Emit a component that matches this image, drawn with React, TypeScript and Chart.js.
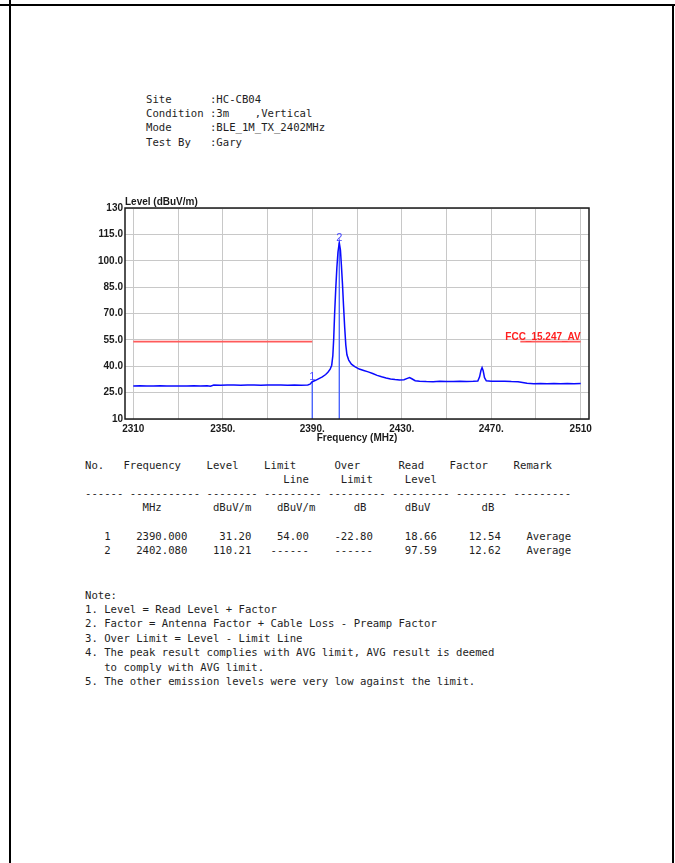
import React, { useEffect, useRef } from 'react';
import { Chart, registerables } from 'chart.js';

Chart.register(...registerables);

// ---------- header ----------
const headerLines = [
  'Site      :HC-CB04',
  'Condition :3m    ,Vertical',
  'Mode      :BLE_1M_TX_2402MHz',
  'Test By   :Gary',
];

// ---------- trace (MHz / dBuV/m) ----------
const traceFreq = [
  2310, 2313, 2316, 2319, 2322, 2325, 2328, 2331, 2334, 2337,
  2340, 2343, 2344.5, 2346, 2349, 2352, 2355, 2358, 2361, 2364,
  2367, 2370, 2373, 2376, 2379, 2382, 2385, 2388, 2389, 2390,
  2391.5, 2393, 2394.5, 2396, 2397, 2398, 2398.7, 2399.2, 2399.6, 2400,
  2400.5, 2401, 2401.5, 2402.08, 2402.6, 2403, 2403.5, 2404, 2404.5, 2405,
  2405.5, 2406.3, 2407.5, 2409, 2411, 2413, 2415, 2417, 2419, 2421,
  2423, 2425, 2427, 2429, 2431, 2432.5, 2433.5, 2434.5, 2436, 2438,
  2441, 2444, 2447, 2450, 2453, 2456, 2459, 2462, 2464, 2464.8,
  2465.4, 2465.9, 2466.4, 2467, 2467.8, 2470, 2473, 2476, 2479, 2482,
  2484, 2486, 2489, 2492, 2495, 2498, 2501, 2504, 2507, 2510,
];
const traceLevel = [
  28.8, 28.9, 28.7, 28.8, 28.9, 28.8, 28.7, 28.8, 28.8, 28.9,
  28.8, 28.9, 28.6, 29.3, 29.2, 29.4, 29.3, 29.2, 29.3, 29.4,
  29.2, 29.3, 29.4, 29.3, 29.2, 29.3, 29.2, 29.3, 29.8, 31.2,
  32.0, 33.0, 34.0, 35.3, 36.6, 38.3, 40.6, 46.0, 56.0, 70.0,
  84.0, 96.0, 105.0, 110.21, 106.0, 98.0, 87.0, 74.0, 62.0, 52.0,
  46.5, 43.5, 41.2, 39.8, 38.4, 37.6, 36.8, 35.9, 34.8, 34.0,
  33.3, 32.8, 32.4, 32.2, 32.3, 33.1, 33.6, 32.9, 31.8, 31.5,
  31.3, 31.2, 31.4, 31.3, 31.3, 31.4, 31.3, 31.4, 31.6, 34.0,
  37.6, 39.2, 37.4, 33.5, 31.7, 31.5, 31.4, 31.5, 31.3, 31.2,
  30.8, 30.3, 30.1, 30.2, 30.1, 30.2, 30.1, 30.2, 30.1, 30.2,
];

// ---------- limit line ----------
const limitName = 'FCC_15.247_AV';
const limitFreq = [2310, 2390, 2436, 2483, 2510];
const limitLevel = [54, 54, null, 54, 54];
const limitValue = 54;
const limitLabelFreq = 2510;

// ---------- markers ----------
const markerNo = ['1', '2'];
const markerFreq = [2390.0, 2402.08];
const markerLevel = [31.2, 110.21];

// ---------- axes ----------
const xMin = 2306.3;
const xMax = 2513.7;
const xGridValues = [2310, 2330, 2350, 2370, 2390, 2410, 2430, 2450, 2470, 2490, 2510];
const xLabelValues = [2310, 2350, 2390, 2430, 2470, 2510];
const xLabelTexts = ['2310', '2350.', '2390.', '2430.', '2470.', '2510'];
const yTickValues = [10, 25, 40, 55, 70, 85, 100, 115, 130];
const yTickTexts = ['10', '25.0', '40.0', '55.0', '70.0', '85.0', '100.0', '115.0', '130'];
const xTitle = 'Frequency (MHz)';
const yTitle = 'Level (dBuV/m)';

// ---------- table ----------
const tableNo = ['1', '2'];
const tableFreq = ['2390.000', '2402.080'];
const tableLevel = ['31.20', '110.21'];
const tableLimit = ['54.00', '------'];
const tableOver = ['-22.80', '------'];
const tableRead = ['18.66', '97.59'];
const tableFactor = ['12.54', '12.62'];
const tableRemark = ['Average', 'Average'];

const noteLines = [
  'Note:',
  '1. Level = Read Level + Factor',
  '2. Factor = Antenna Factor + Cable Loss - Preamp Factor',
  '3. Over Limit = Level - Limit Line',
  '4. The peak result complies with AVG limit, AVG result is deemed',
  '   to comply with AVG limit.',
  '5. The other emission levels were very low against the limit.',
];

function put(line: string, col: number, text: string): string {
  let s = line;
  while (s.length < col) s += ' ';
  return s.slice(0, col) + text + s.slice(col + text.length);
}
function putRight(line: string, endCol: number, text: string): string {
  return put(line, endCol - text.length + 1, text);
}

function buildTable(): string {
  const lines: string[] = [];
  let h1 = '';
  h1 = put(h1, 0, 'No.');
  h1 = put(h1, 6, 'Frequency');
  h1 = put(h1, 19, 'Level');
  h1 = put(h1, 28, 'Limit');
  h1 = put(h1, 39, 'Over');
  h1 = put(h1, 49, 'Read');
  h1 = put(h1, 57, 'Factor');
  h1 = put(h1, 67, 'Remark');
  lines.push(h1);
  let h2 = '';
  h2 = put(h2, 31, 'Line');
  h2 = put(h2, 40, 'Limit');
  h2 = put(h2, 50, 'Level');
  lines.push(h2);
  lines.push('------ ----------- -------- --------- --------- --------- -------- ---------');
  let u = '';
  u = put(u, 9, 'MHz');
  u = put(u, 20, 'dBuV/m');
  u = put(u, 30, 'dBuV/m');
  u = put(u, 42, 'dB');
  u = put(u, 50, 'dBuV');
  u = put(u, 62, 'dB');
  lines.push(u);
  lines.push('');
  for (let i = 0; i < tableNo.length; i++) {
    let r = '';
    r = putRight(r, 3, tableNo[i]);
    r = put(r, 8, tableFreq[i]);
    r = putRight(r, 25, tableLevel[i]);
    r = putRight(r, 34, tableLimit[i]);
    r = putRight(r, 44, tableOver[i]);
    r = putRight(r, 54, tableRead[i]);
    r = putRight(r, 64, tableFactor[i]);
    r = put(r, 69, tableRemark[i]);
    lines.push(r);
  }
  return lines.join('\n');
}

const FONT = '"Liberation Sans", Arial, sans-serif';

const overlayPlugin = {
  id: 'overlay',
  afterDatasetsDraw(chart: any) {
    const { ctx, chartArea: a, scales } = chart;
    const xs = scales.x;
    const ys = scales.y;
    ctx.save();
    ctx.strokeStyle = '#1a1a1a';
    ctx.lineWidth = 1.5;
    ctx.strokeRect(a.left, a.top, a.right - a.left, a.bottom - a.top);

    ctx.fillStyle = '#1a1a1a';
    ctx.font = 'bold 10px ' + FONT;
    ctx.textAlign = 'left';
    ctx.textBaseline = 'alphabetic';
    ctx.fillText(yTitle, a.left, a.top - 3);

    ctx.textAlign = 'center';
    ctx.textBaseline = 'middle';
    ctx.fillText(xTitle, (a.left + a.right) / 2, a.bottom + 19);

    ctx.fillStyle = '#4646ff';
    ctx.font = '11px ' + FONT;
    ctx.textAlign = 'center';
    ctx.textBaseline = 'alphabetic';
    markerFreq.forEach((f, i) => {
      ctx.fillText(markerNo[i], xs.getPixelForValue(f), ys.getPixelForValue(markerLevel[i]) - 2);
    });

    ctx.fillStyle = '#ff2020';
    ctx.font = 'bold 10px ' + FONT;
    ctx.textAlign = 'right';
    ctx.fillText(limitName, xs.getPixelForValue(limitLabelFreq), ys.getPixelForValue(limitValue) - 1.5);
    ctx.restore();
  },
};

const mono: React.CSSProperties = {
  position: 'absolute',
  margin: 0,
  fontFamily: '"DejaVu Sans Mono", "Liberation Mono", monospace',
  fontSize: '10.63px',
  color: '#1e1e1e',
  whiteSpace: 'pre',
};

export default function App() {
  const ref = useRef<HTMLCanvasElement>(null);

  useEffect(() => {
    if (!ref.current) return;
    const chart = new Chart(ref.current, {
      type: 'line',
      data: {
        datasets: [
          {
            label: 'trace',
            data: traceFreq.map((f, i) => ({ x: f, y: traceLevel[i] })),
            borderColor: '#0a0aff',
            borderWidth: 1.5,
            pointRadius: 0,
            tension: 0,
          },
          {
            label: limitName,
            data: limitFreq.map((f, i) => ({ x: f, y: limitLevel[i] as any })),
            borderColor: '#ff5a5a',
            borderWidth: 1.6,
            pointRadius: 0,
            spanGaps: false,
          },
          ...markerFreq.map((f, i) => ({
            label: 'marker' + markerNo[i],
            data: [
              { x: f, y: markerLevel[i] },
              { x: f, y: yTickValues[0] },
            ],
            borderColor: '#3f5cff',
            borderWidth: 1.3,
            pointRadius: 0,
          })),
        ],
      },
      options: {
        animation: false,
        responsive: false,
        maintainAspectRatio: false,
        layout: { padding: { left: 0, top: 23, right: 31, bottom: 0 } },
        plugins: {
          legend: { display: false },
          tooltip: { enabled: false },
        },
        scales: {
          x: {
            type: 'linear',
            min: xMin,
            max: xMax,
            afterBuildTicks: (axis: any) => {
              axis.ticks = xGridValues.map((v) => ({ value: v }));
            },
            afterFit: (axis: any) => {
              axis.height = 36;
            },
            ticks: {
              autoSkip: false,
              maxRotation: 0,
              padding: 4,
              color: '#1a1a1a',
              font: { family: FONT, size: 10, weight: 'bold' },
              callback: (value: any) => {
                const idx = xLabelValues.indexOf(Number(value));
                return idx >= 0 ? xLabelTexts[idx] : '';
              },
            },
            grid: { color: '#c8c8c8', lineWidth: 1, drawTicks: false },
            border: { display: false },
          },
          y: {
            type: 'linear',
            min: yTickValues[0],
            max: yTickValues[yTickValues.length - 1],
            afterBuildTicks: (axis: any) => {
              axis.ticks = yTickValues.map((v) => ({ value: v }));
            },
            afterFit: (axis: any) => {
              axis.width = 65;
            },
            ticks: {
              autoSkip: false,
              padding: 2,
              color: '#1a1a1a',
              font: { family: FONT, size: 10, weight: 'bold' },
              callback: (value: any) => {
                const idx = yTickValues.indexOf(Number(value));
                return idx >= 0 ? yTickTexts[idx] : '';
              },
            },
            grid: { color: '#c8c8c8', lineWidth: 1, drawTicks: false },
            border: { display: false },
          },
        },
      },
      plugins: [overlayPlugin],
    } as any);
    return () => chart.destroy();
  }, []);

  return (
    <div
      style={{
        position: 'absolute',
        left: 0,
        top: 0,
        width: 675,
        height: 863,
        background: '#ffffff',
        overflow: 'hidden',
      }}
    >
      <div style={{ position: 'absolute', left: 0, top: 4, width: 675, height: 2, background: '#000' }} />
      <div style={{ position: 'absolute', left: 9, top: 0, width: 2, height: 863, background: '#000' }} />
      <div style={{ position: 'absolute', left: 672, top: 4, width: 2, height: 859, background: '#000' }} />

      <pre style={{ ...mono, left: 146, top: 92.9, lineHeight: '14.2px' }}>{headerLines.join('\n')}</pre>

      <div style={{ position: 'absolute', left: 60, top: 185, width: 560, height: 270 }}>
        <canvas ref={ref} width={560} height={270} style={{ width: 560, height: 270, display: 'block' }} />
      </div>

      <pre style={{ ...mono, left: 85, top: 458.5, lineHeight: '14.3px' }}>{buildTable()}</pre>

      <pre style={{ ...mono, left: 85, top: 588.5, lineHeight: '14.43px' }}>{noteLines.join('\n')}</pre>
    </div>
  );
}
